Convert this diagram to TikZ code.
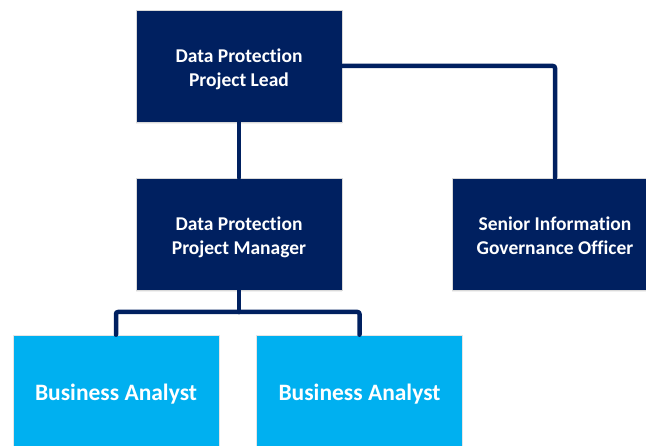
\documentclass[tikz,border=0pt]{standalone}
\usepackage{fontspec}
\setmainfont{Carlito}[Ligatures=NoCommon]
\usetikzlibrary{shadows}
\definecolor{navy}{HTML}{002060}
\definecolor{sky}{HTML}{00B0F0}
\newcommand{\boxlines}[1]{\raisebox{0pt}[\dimexpr\height+8pt\relax][\depth]{\begin{tabular}{@{}c@{}}#1\end{tabular}}}
\tikzset{
  darkbox/.style={rectangle, fill=navy, draw=black!15, line width=0.6pt, minimum width=206pt, minimum height=112pt, text=white, font=\bfseries\fontsize{19.5}{23.5}\selectfont, drop shadow={shadow xshift=0pt, shadow yshift=-2pt, opacity=0.12}},
  lightbox/.style={rectangle, fill=sky, draw=black!10, line width=0.6pt, minimum width=206pt, minimum height=112pt, text=white, font=\bfseries\fontsize{23.5}{28}\selectfont, drop shadow={shadow xshift=0pt, shadow yshift=-2pt, opacity=0.12}},
  link/.style={draw=navy, line width=4.5pt, line cap=round, line join=round, rounded corners=2pt}
}
\begin{document}
\begin{tikzpicture}[x=1pt, y=-1pt]
\useasboundingbox (0,0) rectangle (646,446);
\clip (0,0) rectangle (646,446);
\node[darkbox] (lead) at (239,66) {\boxlines{Data Protection\\Project Lead}};
\node[darkbox] (mgr) at (239,234) {\boxlines{Data Protection\\Project Manager}};
\node[darkbox] (sigo) at (555,234) {\boxlines{Senior Information\\Governance Officer}};
\node[lightbox] (ba1) at (116,391) {\boxlines{Business Analyst}};
\node[lightbox] (ba2) at (359.5,391) {\boxlines{Business Analyst}};
\coordinate (junc) at (239,312);
\draw[link] (lead.south) -- (mgr.north);
\draw[link] (lead.east) -| (sigo.north);
\draw[link] (mgr.south) -- (junc);
\draw[link] (junc) -| (ba1.north);
\draw[link] (junc) -| (ba2.north);
\end{tikzpicture}
\end{document}
